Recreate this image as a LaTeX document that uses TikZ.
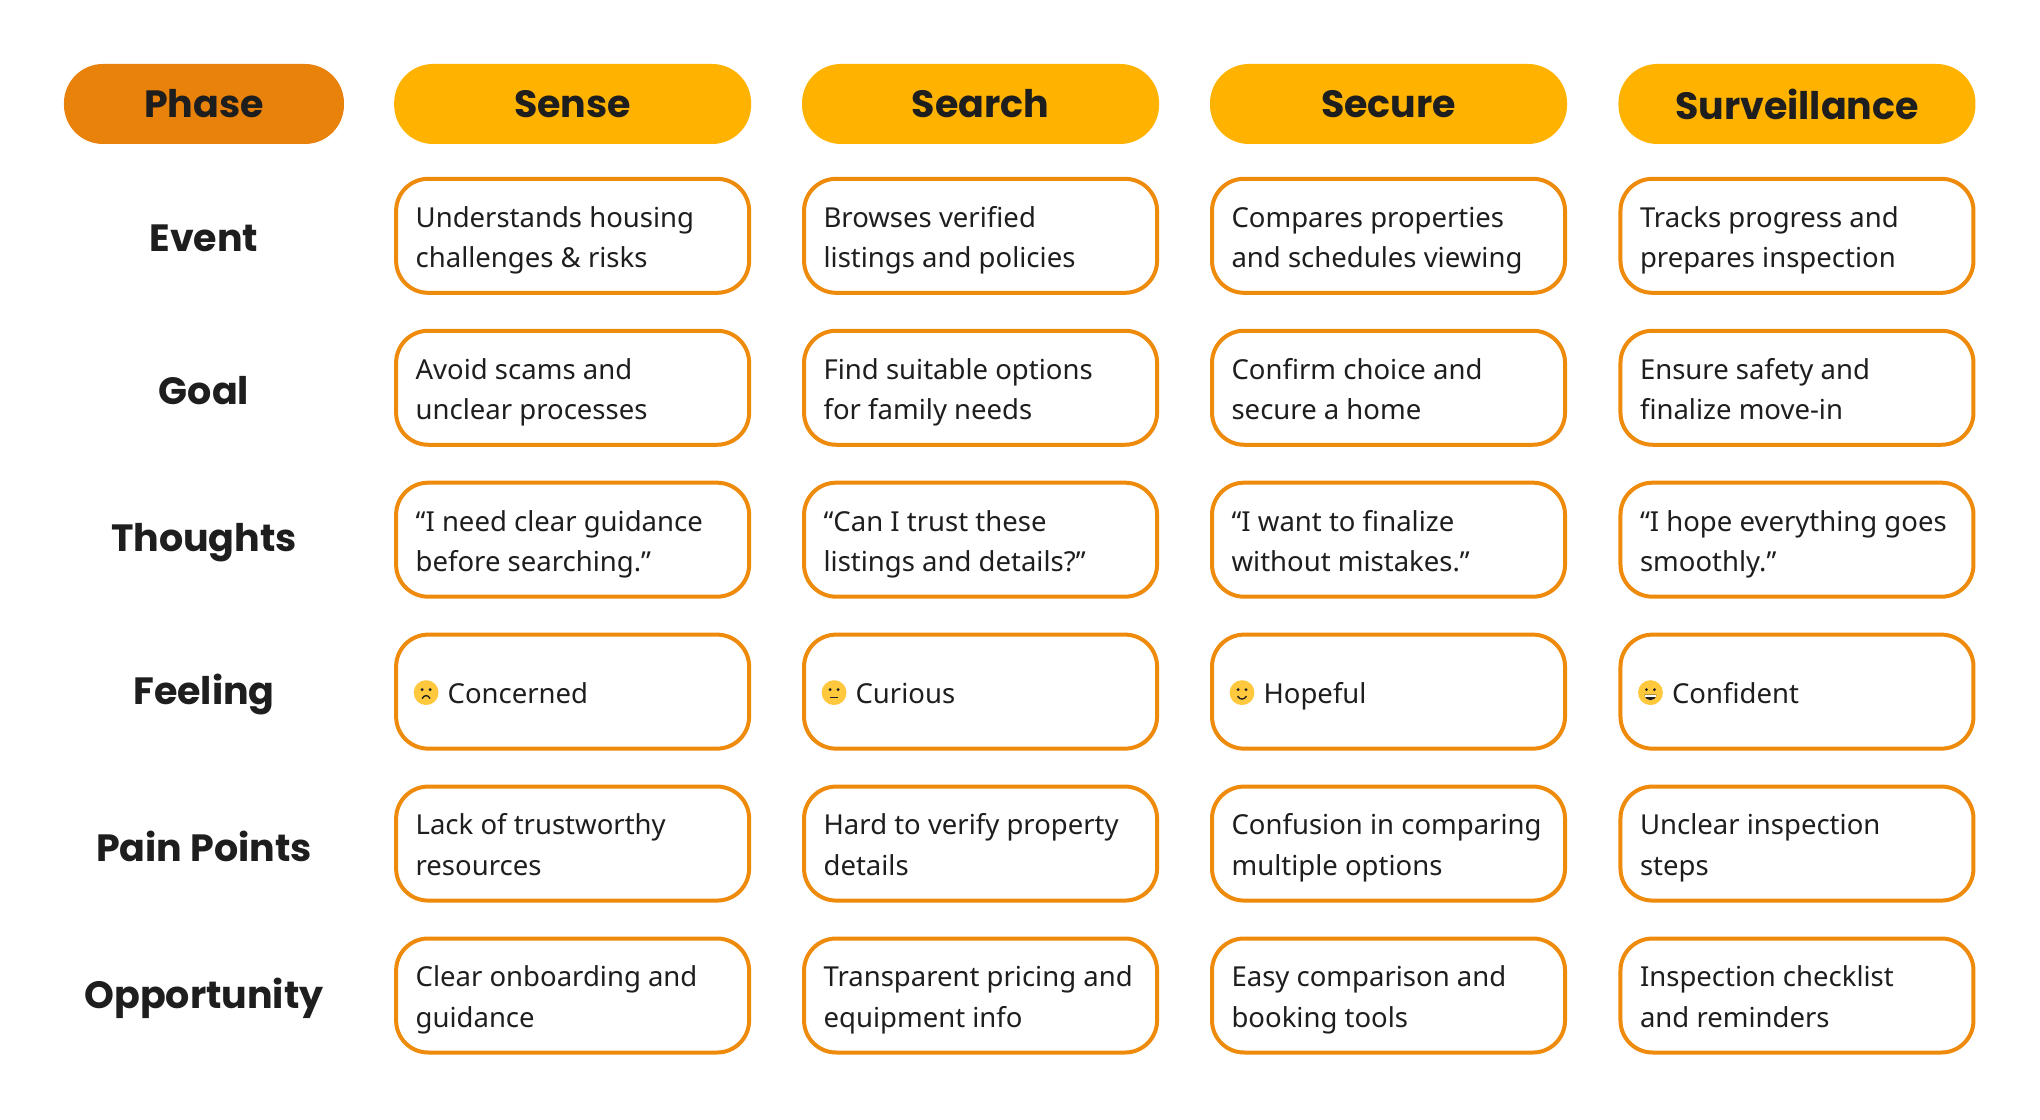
\documentclass[tikz,border=0pt]{standalone}
\usepackage{fontspec}
\setmainfont{Noto Sans}
\newfontfamily\hfont{Poppins}
\definecolor{amber}{HTML}{FFB300}
\definecolor{dorange}{HTML}{E8820A}
\definecolor{bord}{HTML}{EE8A0C}
\definecolor{txt}{HTML}{1E1E1E}
\definecolor{emo}{HTML}{FFC83D}
\begin{document}
\begin{tikzpicture}[x=0.995pt,y=-0.995pt,
  hdr/.style={rounded corners=39pt,minimum width=357pt,minimum height=80pt,fill=amber,font=\hfont\bfseries\fontsize{38}{44}\selectfont,text=txt},
  lbl/.style={font=\hfont\bfseries\fontsize{38}{44}\selectfont,text=txt},
  cell/.style={draw=bord,line width=4pt,rounded corners=32pt,minimum width=353pt,minimum height=114pt},
  ctext/.style={anchor=west,align=left,font=\fontsize{27.5}{40.5}\selectfont,text=txt}]
\useasboundingbox (0,0) rectangle (2050.25,1125.63);
\fill[white] (0,0) rectangle (2050.25,1125.63);
\node[hdr,fill=dorange,minimum width=280pt] (ph) at (205,104.5) {Phase};
\def\cx{{575.5,985.5,1395.5,1806}}
\foreach \n/\t [count=\i from 0] in {c0/Sense,c1/Search,c2/Secure,c3/Surveillance}{
  \pgfmathsetmacro\x{\cx[\i]}
  \node[hdr] (\n) at (\x,104.5) {\t};
}
\foreach \t [count=\j from 0] in {Event,Goal,Thoughts,Feeling,Pain Points,Opportunity}{
  \pgfmathsetmacro\y{240+152.7*\j}
  \node[lbl] (r\j) at (205,\y) {\t};
}
\newcommand\cellat[4]{% col row name text
  \pgfmathsetmacro\x{\cx[#1]}\pgfmathsetmacro\y{237+152.7*#2}
  \node[cell] (#3) at (\x,\y) {};
  \node[ctext] (#3t) at ([xshift=18pt,yshift=-3.5pt]#3.west) {\strut#4\strut};}
\cellat{0}{0}{a0}{Understands housing\\challenges \& risks}
\cellat{1}{0}{b0}{Browses verified\\listings and policies}
\cellat{2}{0}{d0}{Compares properties\\and schedules viewing}
\cellat{3}{0}{e0}{Tracks progress and\\prepares inspection}
\cellat{0}{1}{a1}{Avoid scams and\\unclear processes}
\cellat{1}{1}{b1}{Find suitable options\\for family needs}
\cellat{2}{1}{d1}{Confirm choice and\\secure a home}
\cellat{3}{1}{e1}{Ensure safety and\\finalize move-in}
\cellat{0}{2}{a2}{“I need clear guidance\\before searching.”}
\cellat{1}{2}{b2}{“Can I trust these\\listings and details?”}
\cellat{2}{2}{d2}{“I want to finalize\\without mistakes.”}
\cellat{3}{2}{e2}{“I hope everything goes\\smoothly.”}
\cellat{0}{3}{a3}{\hspace{32pt}Concerned}
\cellat{1}{3}{b3}{\hspace{32pt}Curious}
\cellat{2}{3}{d3}{\hspace{32pt}Hopeful}
\cellat{3}{3}{e3}{\hspace{32pt}Confident}
\cellat{0}{4}{a4}{Lack of trustworthy\\resources}
\cellat{1}{4}{b4}{Hard to verify property\\details}
\cellat{2}{4}{d4}{Confusion in comparing\\multiple options}
\cellat{3}{4}{e4}{Unclear inspection\\steps}
\cellat{0}{5}{a5}{Clear onboarding and\\guidance}
\cellat{1}{5}{b5}{Transparent pricing and\\equipment info}
\cellat{2}{5}{d5}{Easy comparison and\\booking tools}
\cellat{3}{5}{e5}{Inspection checklist\\and reminders}
% emojis
\foreach \n/\k in {a3/0,b3/1,d3/2,e3/3}{
  \begin{scope}[shift={([xshift=32pt,yshift=-1pt]\n.west)}]
  \fill[emo] (0,0) circle (12.5);
  \fill[txt] (-4,-3) circle (1.6) (4,-3) circle (1.6);
  \ifcase\k
    \draw[txt,line width=1.3pt] (-4,6) .. controls (-2,2) and (2,2) .. (4,6);
  \or
    \draw[txt,line width=1.3pt] (-4,5) -- (4,5);
  \or
    \draw[txt,line width=1.3pt] (-4.5,3.5) .. controls (-2,7.5) and (2,7.5) .. (4.5,3.5);
  \or
    \fill[txt] (-6,2) -- (6,2) .. controls (5,9.5) and (-5,9.5) .. cycle;
    \fill[white] (-5.5,2.5) rectangle (5.5,4.2);
  \fi
  \end{scope}}
\end{tikzpicture}
\end{document}
